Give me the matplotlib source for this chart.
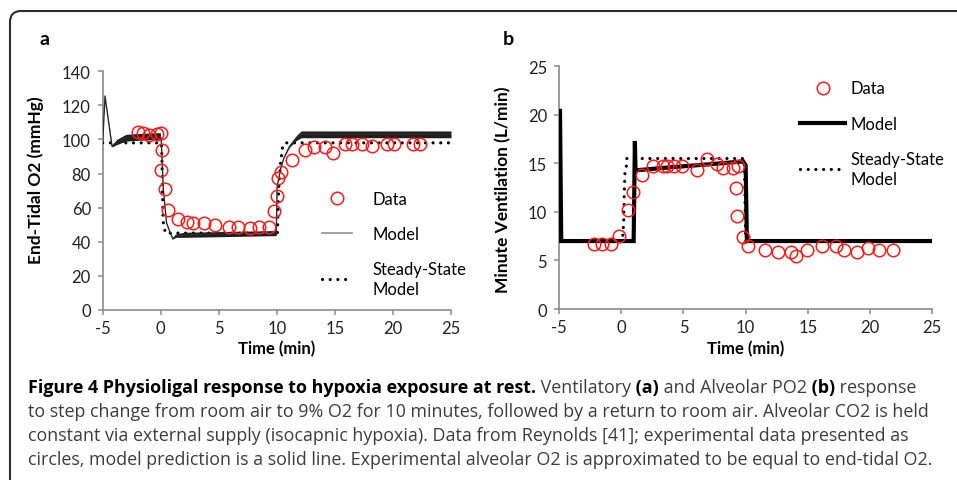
import numpy as np
import matplotlib.pyplot as plt
from matplotlib.lines import Line2D
from matplotlib.patches import FancyBboxPatch
from matplotlib.transforms import IdentityTransform

plt.rcParams['font.family'] = ['Lato', 'DejaVu Sans']
plt.rcParams['axes.unicode_minus'] = False

# ---- panel a: end-tidal O2 (mmHg) ----
data_a_t = [-2.0, -1.5, -1.0, -0.3, 0.0, 0.08, 0.02, 0.37, 0.6, 1.46, 2.29, 2.75, 3.76, 4.65,
            5.88, 6.66, 7.69, 8.49, 9.33, 9.73, 9.99, 10.1, 10.36, 11.28, 12.46, 13.2, 14.18,
            14.81, 15.9, 16.45, 17.37, 18.23, 19.46, 20.12, 21.7, 22.33]
data_a = [104.2, 103.8, 102.6, 103.0, 103.8, 93.8, 82.0, 70.9, 58.7, 53.3, 51.7, 50.9, 50.9, 49.9,
          48.4, 48.4, 47.8, 48.8, 48.8, 57.8, 67.0, 77.3, 81.0, 88.1, 94.0, 95.7, 95.7,
          92.2, 97.1, 97.1, 97.1, 96.3, 97.1, 97.1, 97.1, 97.1]

model_a_t = [-5.0, -4.8, -4.2, -3.8, -3.0, -2.0, -0.05, 0.05, 0.22, 0.5, 0.8, 1.05, 1.3, 2.0,
             6.0, 9.95, 10.02, 10.3, 10.6, 11.1, 11.7, 12.1, 25.0]
model_a = [98, 125.5, 96, 98.5, 101, 101.5, 102, 99, 71, 51, 45.5, 41.5, 43.5, 44,
           44.5, 45, 72, 82, 89, 96, 101, 103, 103]
# breath-to-breath swing of the model trace (half width of the dark band)
model_a_swing = [0, 0, 0.5, 1.5, 2, 2, 2, 0, 0, 0, 0, 0, 1, 1.5,
                 1.5, 1.5, 0, 0, 0, 0.5, 1.5, 2, 2]

steady_a_t = [-5.0, 0.05, 0.1, 0.15, 0.2, 0.4, 10.05, 10.15, 10.3, 10.5, 10.7, 25.0]
steady_a = [98, 98, 90, 70, 52, 45, 45, 70, 85, 96, 98, 98]

# ---- panel b: minute ventilation (L/min) ----
data_b_t = [-2.21, -1.52, -0.79, -0.2, 0.52, 0.92, 1.67, 2.58, 3.33, 3.65, 4.24, 4.91, 6.12,
            6.87, 7.7, 8.2, 8.96, 9.36, 9.2, 9.33, 9.81, 10.16, 11.58, 12.57, 13.64, 14.05,
            14.9, 16.14, 17.23, 17.9, 18.98, 19.83, 20.72, 21.87]
data_b = [6.7, 6.7, 6.7, 7.55, 10.2, 12.1, 13.8, 14.77, 14.77, 14.77, 14.77, 14.77, 14.3,
          15.4, 14.9, 14.56, 14.56, 14.77, 12.47, 9.6, 7.4, 6.5, 6.1, 5.9, 5.9, 5.5,
          6.1, 6.5, 6.5, 6.1, 5.9, 6.3, 6.1, 6.1]

model_b_t = [-4.92, -4.82, 1.0, 1.1, 1.15, 1.3, 4.0, 7.0, 9.8, 10.0, 10.1, 25.0]
model_b = [20.4, 7.0, 7.0, 17.3, 14.2, 14.3, 14.6, 14.9, 15.2, 14.8, 7.0, 7.0]

steady_b_t = [-5.0, 0.1, 0.2, 0.25, 0.3, 0.4, 0.45, 9.9, 10.0, 25.0]
steady_b = [7.0, 7.0, 9.0, 12.0, 14.0, 14.5, 15.5, 15.5, 7.0, 7.0]

xticks = [-5, 0, 5, 10, 15, 20, 25]
yticks_a = [0, 20, 40, 60, 80, 100, 120, 140]
yticks_b = [0, 5, 10, 15, 20, 25]

fig = plt.figure(figsize=(9.57, 4.81), dpi=100)
ax1 = fig.add_axes([0.1073, 0.354, 0.364, 0.4956])
ax2 = fig.add_axes([0.5841, 0.3555, 0.3901, 0.5046])

dot_style = dict(color='black', lw=2.3, ls=(0, (0.01, 2.4)), dash_capstyle='round')
circ_style = dict(ls='none', marker='o', ms=9, mfc='none', mec='#ff1a1a', mew=1.1)


def style_axis(ax, yticks, ylabel, ylab_pos):
    ax.set_xlim(-5, 25)
    ax.set_ylim(yticks[0], yticks[-1])
    ax.set_xticks(xticks)
    ax.set_yticks(yticks)
    for s in ['top', 'right']:
        ax.spines[s].set_visible(False)
    for s in ['left', 'bottom']:
        ax.spines[s].set_color('#8a8a8a')
        ax.spines[s].set_linewidth(1.2)
        ax.spines[s].set_zorder(0.5)
    ax.tick_params(direction='out', length=3.5, width=1.1, color='#8a8a8a',
                   labelsize=12, labelcolor='#222222')
    ax.tick_params(axis='y', pad=5)
    ax.tick_params(axis='x', pad=4)
    ax.set_ylabel(ylabel, fontsize=12.5, fontweight='bold')
    ax.yaxis.set_label_coords(*ylab_pos)
    ax.set_xlabel('Time (min)', fontsize=12, fontweight='bold')
    ax.xaxis.set_label_coords(0.5, -0.16)
    ax.xaxis.label.set_va('center')


def add_legend(ax, handles, anchor, hlen, tpad):
    leg = ax.legend(handles, ['Data', 'Model', 'Steady-State\nModel'],
                    loc='upper left', bbox_to_anchor=anchor, frameon=False, fontsize=12,
                    borderpad=0, borderaxespad=0, handlelength=hlen, handletextpad=tpad,
                    labelspacing=1.15)
    for t in leg.get_texts():
        t.set_linespacing(1.3)
    return leg


# panel a
ax1.plot(steady_a_t, steady_a, zorder=2, **dot_style)
lo = np.array(model_a) - np.array(model_a_swing)
hi = np.array(model_a) + np.array(model_a_swing)
ax1.fill_between(model_a_t, lo, hi, color='#1e1e1e', lw=0, zorder=3)
ax1.plot(model_a_t, model_a, color='#2a2a2a', lw=1.0, zorder=3)
ax1.plot(data_a_t, data_a, zorder=4, **circ_style)
style_axis(ax1, yticks_a, 'End-Tidal O2 (mmHg)', (-0.168, 0.548))

h_data = Line2D([], [], **circ_style)
h_model_a = Line2D([], [], color='#9a9a9a', lw=1.3)
h_steady = Line2D([], [], **dot_style)
add_legend(ax1, [h_data, h_model_a, h_steady], (0.63, 0.50), 1.8, 1.2)

# panel b
ax2.plot(steady_b_t, steady_b, zorder=2, **dot_style)
ax2.plot(model_b_t, model_b, color='black', lw=3.0, zorder=3, solid_joinstyle='miter')
ax2.plot(data_b_t, data_b, zorder=4, **circ_style)
style_axis(ax2, yticks_b, 'Minute Ventilation (L/min)', (-0.127, 0.495))

h_model_b = Line2D([], [], color='black', lw=3.0)
add_legend(ax2, [h_data, h_model_b, h_steady], (0.6456, 0.942), 2.7, 0.35)

# panel letters
fig.text(39 / 957, 1 - 45 / 481, 'a', fontsize=14, fontweight='bold', va='baseline')
fig.text(503 / 957, 1 - 45 / 481, 'b', fontsize=14, fontweight='bold', va='baseline')

# caption
cap_font = ['Open Sans', 'DejaVu Sans']
cap_grey = '#3c3c3c'
line1 = [('Figure 4 Physioligal response to hypoxia exposure at rest.', 'bold'),
         (' Ventilatory', 'normal'), (' (a)', 'bold'), (' and Alveolar PO2', 'normal'),
         (' (b)', 'bold'), (' response', 'normal')]
other_lines = ['to step change from room air to 9% O2 for 10 minutes, followed by a return to room air. Alveolar CO2 is held',
               'constant via external supply (isocapnic hypoxia). Data from Reynolds [41]; experimental data presented as',
               'circles, model prediction is a solid line. Experimental alveolar O2 is approximated to be equal to end-tidal O2.']

cap_texts = []
prev = fig.text(28 / 957, 1 - 393 / 481, line1[0][0], fontsize=12, fontweight='bold',
                family=cap_font, color='black', va='baseline')
cap_texts.append(prev)
for txt, wt in line1[1:]:
    prev = ax1.annotate(txt, xy=(1, 0), xycoords=prev, va='bottom', ha='left',
                        fontsize=12, fontweight=wt, family=cap_font,
                        color='black' if wt == 'bold' else cap_grey, annotation_clip=False)
    cap_texts.append(prev)
for i, txt in enumerate(other_lines):
    cap_texts.append(fig.text(28 / 957, 1 - (417 + 24 * i) / 481, txt, fontsize=12,
                              family=cap_font, color=cap_grey, va='baseline'))

# scale the caption so its second line spans the same width as in the figure (28 -> 923 px)
fig.canvas.draw()
w = cap_texts[-3].get_window_extent(fig.canvas.get_renderer()).width
for t in cap_texts:
    t.set_fontsize(12 * 895 / w)

# rounded frame running off the right and bottom edges
frame = FancyBboxPatch((10, -30), 1000, 499, boxstyle='round,pad=0,rounding_size=11',
                       fill=False, ec='#2e2e2e', lw=1.5, transform=IdentityTransform())
fig.add_artist(frame)

fig.savefig('out.png', dpi=100)
